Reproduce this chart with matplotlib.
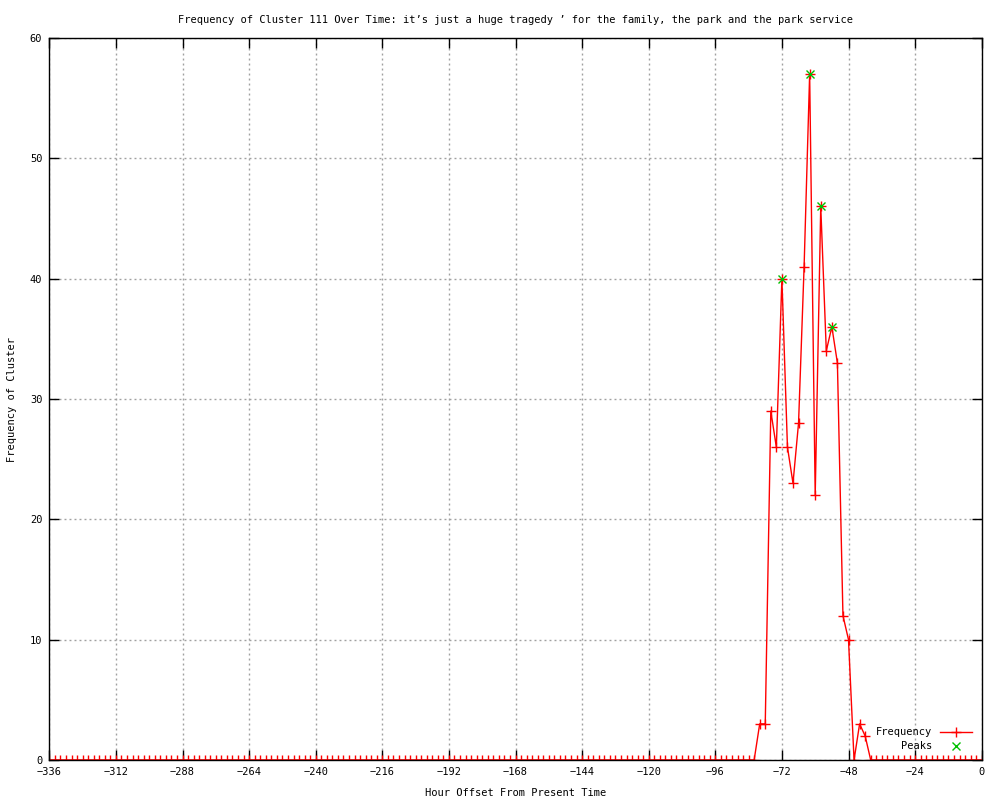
import matplotlib
matplotlib.use('Agg')
import matplotlib.pyplot as plt
from matplotlib.lines import Line2D

# hourly samples every 2 hours over the last two weeks
hours = list(range(-336, 1, 2))

# non-zero counts (everything else is 0)
active_hours = [-80, -78, -76, -74, -72, -70, -68, -66, -64, -62, -60,
                -58, -56, -54, -52, -50, -48, -46, -44, -42]
active_freq = [3, 3, 29, 26, 40, 26, 23, 28, 41, 57, 22,
               46, 34, 36, 33, 12, 10, 0, 3, 2]

peak_hours = [-72, -62, -58, -54]
peak_freq = [40, 57, 46, 36]

x_ticks = list(range(-336, 1, 24))
y_ticks = [0, 10, 20, 30, 40, 50, 60]

title = "Frequency of Cluster 111 Over Time: it\u2019s just a huge tragedy \u2019 for the family, the park and the park service"

lookup = dict(zip(active_hours, active_freq))
freq = [lookup.get(h, 0) for h in hours]

plt.rcParams['font.family'] = ['DejaVu Sans Mono']
plt.rcParams['font.size'] = 7.5

fig = plt.figure(figsize=(10, 8), dpi=100)
ax = fig.add_axes([0.0493, 0.05, 0.9324, 0.9025])

red = '#ff0000'
green = '#00c000'

ax.plot(hours, freq, color=red, linewidth=1, marker='+', markersize=7,
        markeredgewidth=1, zorder=3)
ax.plot(peak_hours, peak_freq, linestyle='none', color=green, marker='x',
        markersize=6, markeredgewidth=1, zorder=4)

ax.set_xlim(-336, 0)
ax.set_ylim(0, 60)
ax.set_xticks(x_ticks)
ax.set_yticks(y_ticks)
ax.tick_params(direction='in', length=7, width=1, top=True, right=True, pad=5)
ax.grid(True, color='#a0a0a0', linestyle=(0, (1.4, 2.2)), linewidth=1)
for s in ax.spines.values():
    s.set_linewidth(1)
    s.set_zorder(5)

ax.set_title(title, fontsize=7.5, pad=11)
ax.set_xlabel('Hour Offset From Present Time', labelpad=8)
ax.set_ylabel('Frequency of Cluster', labelpad=9)

# gnuplot-style key, bottom right
tr = ax.transAxes
ax.text(0.947, 0.0388, 'Frequency', transform=tr, ha='right', va='center')
ax.text(0.947, 0.0194, 'Peaks', transform=tr, ha='right', va='center')
ax.add_line(Line2D([0.955, 0.990], [0.0388, 0.0388], transform=tr,
                   color=red, linewidth=1))
ax.add_line(Line2D([0.9725], [0.0388], transform=tr, color=red, marker='+',
                   markersize=7, markeredgewidth=1))
ax.add_line(Line2D([0.9725], [0.0194], transform=tr, color=green, marker='x',
                   markersize=6, markeredgewidth=1))

fig.savefig('out.png', dpi=100)
